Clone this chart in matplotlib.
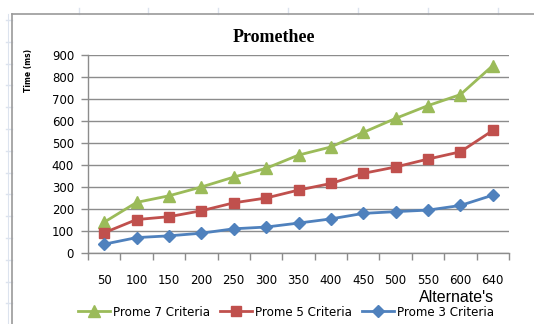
import matplotlib
matplotlib.use("Agg")
import matplotlib.pyplot as plt
from matplotlib.lines import Line2D
import numpy as np

# Data
alternatives = ["50", "100", "150", "200", "250", "300", "350", "400", "450", "500", "550", "600", "640"]
prome7 = [140, 230, 260, 300, 345, 385, 445, 482, 548, 612, 670, 720, 852]
prome5 = [92, 152, 165, 192, 228, 250, 286, 316, 362, 391, 427, 460, 557]
prome3 = [40, 70, 78, 90, 110, 118, 136, 155, 180, 188, 195, 216, 263]
y_ticks = [0, 100, 200, 300, 400, 500, 600, 700, 800, 900]

W, H = 534, 324
fig = plt.figure(figsize=(W / 100, H / 100), dpi=100)
fig.patch.set_facecolor("white")

def fx(px):
    return px / W

def fy(py):
    return 1 - py / H

# faint sheet cell lines outside the chart frame
cell = "#dce3ee"
for x in [79, 148, 218, 288, 358, 428, 498]:
    fig.add_artist(Line2D([fx(x), fx(x)], [fy(8), fy(14)], color=cell, lw=1))
for y in np.arange(20, 324, 21.8):
    fig.add_artist(Line2D([fx(6), fx(12)], [fy(y), fy(y)], color=cell, lw=1))
fig.add_artist(Line2D([fx(8), fx(8)], [fy(14), fy(324)], color=cell, lw=0.8))

# chart frame
frame = "#9a9a9a"
fig.add_artist(Line2D([fx(12), fx(534)], [fy(14), fy(14)], color=frame, lw=1.2))
fig.add_artist(Line2D([fx(12), fx(12)], [fy(14), fy(324)], color=frame, lw=1.2))

ax = fig.add_axes([fx(88), fy(253), fx(509) - fx(88), fy(55) - fy(253)])
x = np.arange(len(alternatives))

ax.plot(x, prome7, color="#9BBB59", lw=2, marker="^", ms=8.5, zorder=3, label="Prome 7 Criteria")
ax.plot(x, prome5, color="#C0504D", lw=2, marker="s", ms=7.5, zorder=3, label="Prome 5 Criteria")
ax.plot(x, prome3, color="#4F81BD", lw=2, marker="D", ms=6, zorder=3, label="Prome 3 Criteria")

ax.set_xlim(-0.5, len(alternatives) - 0.5)
ax.set_ylim(0, 900)
ax.set_yticks(y_ticks)
ax.yaxis.grid(True, color="#8c8c8c", lw=1)
ax.set_axisbelow(True)

for s in ["top", "right"]:
    ax.spines[s].set_visible(False)
for s in ["left", "bottom"]:
    ax.spines[s].set_color("#8c8c8c")
    ax.spines[s].set_linewidth(1)

tick_font = dict(family="DejaVu Sans", size=8.5)
ax.set_xticks(x)
ax.set_xticklabels(alternatives, **tick_font)
ax.set_xticks(np.arange(-0.5, len(alternatives)), minor=True)
ax.tick_params(axis="x", which="major", length=0, pad=15)
ax.tick_params(axis="x", which="minor", length=5, color="#8c8c8c", width=1)
ax.set_yticklabels([str(v) for v in y_ticks], **tick_font)
ax.tick_params(axis="y", length=5, color="#8c8c8c", width=1, pad=5)

fig.text(fx(274), fy(37), "Promethee", ha="center", va="center",
         fontsize=13, fontweight="bold", family="Liberation Serif")
fig.text(fx(29), fy(70), "Time (ms)", ha="center", va="center", rotation=90,
         fontsize=5.5, fontweight="bold", family="DejaVu Sans")
fig.text(fx(457), fy(297), "Alternate's", ha="center", va="center",
         fontsize=11.5, family="Liberation Sans")

leg = fig.legend(loc="center", bbox_to_anchor=(fx(286), fy(312)), ncol=3, frameon=False,
                 prop=dict(family="DejaVu Sans", size=8.6), handlelength=2.7,
                 handletextpad=0.25, columnspacing=0.8, borderpad=0)

fig.savefig("out.png", dpi=100)
